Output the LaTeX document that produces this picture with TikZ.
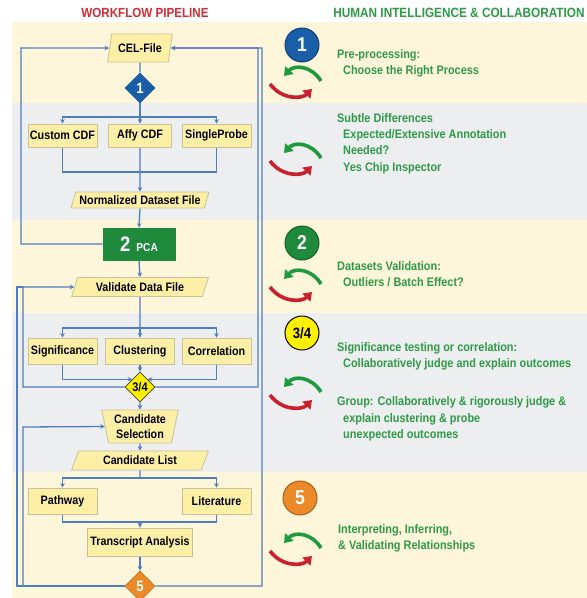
\documentclass[tikz,border=0pt]{standalone}
\usepackage{fontspec}
\setmainfont{Liberation Sans}[FakeStretch=0.88]
\usetikzlibrary{shapes.geometric,arrows.meta}
\definecolor{bandY}{HTML}{FDF6DA}
\definecolor{bandG}{HTML}{EDEEF0}
\definecolor{boxF}{HTML}{FDF0A6}
\definecolor{boxD}{HTML}{C9C19A}
\definecolor{lineB}{HTML}{4F7DBE}
\definecolor{blueN}{HTML}{1B5EA8}
\definecolor{greenN}{HTML}{1F8A3C}
\definecolor{txtG}{HTML}{2F9A47}
\definecolor{redT}{HTML}{D62A36}
\definecolor{orangeN}{HTML}{EC8A2A}
\definecolor{yellowN}{HTML}{FFF000}
\definecolor{redA}{HTML}{C8202E}
\definecolor{greenA}{HTML}{1E9A3E}
\pgfdeclarelayer{back}
\pgfdeclarelayer{lines}
\pgfsetlayers{back,lines,main}
\begin{document}
\begin{tikzpicture}[x=1pt,y=-1pt,
  every node/.style={font=\bfseries\fontsize{12.2}{13}\selectfont},
  box/.style={draw=boxD, fill=boxF, line width=0.8pt, inner sep=1pt, minimum height=23pt},
  para/.style={box, trapezium, trapezium left angle=68, trapezium right angle=112, trapezium stretches=true},
  dia/.style={diamond, aspect=1, minimum width=30pt, minimum height=30pt, inner sep=0pt, line width=0.8pt, font=\bfseries\fontsize{15}{15}\selectfont},
  num/.style={circle, minimum size=34pt, inner sep=0pt, line width=1pt, font=\bfseries\fontsize{20}{20}\selectfont},
  conn/.style={draw=lineB, line width=1.3pt},
  arr/.style={conn, -{Stealth[length=4.5pt,width=4.5pt]}},
  rtext/.style={anchor=west, text=txtG, align=left, inner sep=0pt, font=\bfseries\fontsize{12.4}{16.3}\selectfont},
  cyc/.pic={
    \draw[greenA, line width=3.6pt, -{Triangle[length=8pt,width=11pt]}] (25,0) .. controls (15,-16) and (-2,-16) .. (-12,-5);
    \draw[redA, line width=3.6pt, -{Triangle[length=8pt,width=11pt]}] (-26,3) .. controls (-14,19) and (6,18) .. (16,8);
  }
]
\useasboundingbox (0,0) rectangle (587,598);
\begin{pgfonlayer}{back}
\fill[white] (0,0) rectangle (587,598);
\fill[bandY] (12,22) rectangle (587,103);
\fill[bandG] (12,103) rectangle (587,220);
\fill[bandY] (12,220) rectangle (587,313);
\fill[bandG] (12,313) rectangle (587,472);
\fill[bandY] (12,472) rectangle (587,598);
\end{pgfonlayer}

% titles
\node[text=redT, font=\bfseries\fontsize{13.2}{14}\selectfont] (t1) at (145,13) {WORKFLOW PIPELINE};
\node[text=txtG, font=\bfseries\fontsize{13.4}{14}\selectfont] (t2) at (459,13) {HUMAN INTELLIGENCE \& COLLABORATION};

% pipeline nodes
\node[para, trapezium left angle=74, trapezium right angle=106, minimum width=65pt, minimum height=28pt] (cel) at (140,48) {CEL-File};
\node[dia, fill=blueN, draw=blueN, text=white] (d1) at (140,88) {1};
\node[box, minimum width=69pt] (cdf1) at (62.5,135.5) {Custom CDF};
\node[box, minimum width=63pt] (cdf2) at (140,135.5) {Affy CDF};
\node[box, minimum width=69pt] (cdf3) at (216.5,135.5) {SingleProbe};
\node[para, minimum width=138pt, minimum height=16pt] (norm) at (140,200) {Normalized Dataset File};
\node[box, fill=greenN, draw=greenN, text=white, minimum width=72pt, minimum height=32pt] (pca) at (139,244) {{\fontsize{21}{21}\selectfont 2}\hspace{6pt}{\fontsize{11.5}{12}\selectfont PCA}\hspace{20pt}};
\node[para, minimum width=138pt, minimum height=19pt] (val) at (140,287) {Validate Data File};
\node[box, minimum width=69pt, minimum height=26pt] (sig) at (62.5,351) {Significance};
\node[box, minimum width=69pt, minimum height=26pt] (clu) at (140,351) {Clustering};
\node[box, minimum width=69pt, minimum height=26pt] (cor) at (216.5,351) {Correlation};
\node[dia, fill=yellowN, draw=black!75, text=black, font=\bfseries\fontsize{12.5}{12}\selectfont] (d34) at (140,387) {3/4};
\node[box, trapezium, trapezium left angle=103, trapezium right angle=103, trapezium stretches=true, minimum width=77pt, minimum height=33pt, align=center, font=\bfseries\fontsize{12.2}{15}\selectfont] (csel) at (140,426.5) {Candidate\\Selection};
\node[para, minimum width=138pt, minimum height=19pt] (clist) at (140,460.5) {Candidate List};
\node[box, minimum width=69pt, minimum height=26pt] (path) at (62.5,501) {Pathway};
\node[box, minimum width=69pt, minimum height=26pt] (lit) at (216.5,501) {Literature};
\node[box, minimum width=105pt, minimum height=28pt] (tra) at (140,542) {Transcript Analysis};
\node[dia, fill=orangeN, draw=orangeN!85!black, text=white] (d5) at (140,586) {5};

% helper points
\coordinate (b1) at (140,117);
\coordinate (m1) at (140,172);
\coordinate (b2) at (140,328);
\coordinate (b3) at (140,478);
\coordinate (m3) at (140,522);
\coordinate (L1) at (21,48);
\coordinate (L2) at (23,287);
\coordinate (L3) at (23,427);
\coordinate (L4) at (17,287);
\coordinate (R1) at (258,48);
\coordinate (R2) at (262,48);

\begin{pgfonlayer}{lines}
\draw[conn] (cel.south) -- (d1.north);
\draw[conn] (d1.south) -- (b1);
\draw[arr] (b1) -| (cdf1.north);
\draw[arr] (b1) -| (cdf3.north);
\draw[arr] (b1) -- (cdf2.north);
\draw[conn] (cdf1.south) |- (m1) -| (cdf3.south);
\draw[arr] (cdf2.south) -- (norm.north);
\draw[arr] (norm.south) -- (pca.north);
\draw[arr] (pca.south) -- (val.north);
\draw[conn] (val.south) -- (b2);
\draw[arr] (b2) -| (sig.north);
\draw[arr] (b2) -| (cor.north);
\draw[arr] (b2) -- (clu.north);
\draw[arr] (sig.south) |- (d34.north west);
\draw[arr] (cor.south) |- (d34.north east);
\draw[arr] (clu.south) -- (d34.north);
\draw[arr] (d34.south) -- (csel.north);
\draw[arr] (csel.south) -- (clist.north);
\draw[conn] (clist.south) -- (b3);
\draw[arr] (b3) -| (path.north);
\draw[arr] (b3) -| (lit.north);
\draw[conn] (path.south) |- (m3) -| (lit.south);
\draw[arr] (m3) -- (tra.north);
\draw[arr] (tra.south) -- (d5.north);
% loops
\draw[arr] (pca.west) -| (L1) -- (cel.west);
\draw[arr] (d34.west) -| (L2) -- (val.west);
\draw[arr] (d34.east) -| (R1) -- (cel.east);
\draw[arr] (d5.west) -| (L3) -- (csel.west);
\draw[conn] (d5.west) -| (L4) -- (L2);
\draw[arr] (d5.east) -| (R2) -- (cel.east);
\end{pgfonlayer}

% right column
\node[num, fill=blueN, draw=blueN!70!black, text=white] (c1) at (302,45) {1};
\node[num, fill=greenN, draw=greenN!70!black, text=white] (c2) at (302,243) {2};
\node[num, fill=yellowN, draw=black, text=black, font=\bfseries\fontsize{15}{15}\selectfont] (c34) at (302,333) {3/4};
\node[num, fill=orangeN, draw=orangeN!70!black, text=white] (c5) at (300,498) {5};

\pic at (296,81) {cyc};
\pic at (296,158) {cyc};
\pic at (296,284) {cyc};
\pic at (296,392) {cyc};
\pic at (296,548) {cyc};

\node[rtext] (h1) at (337,63) {Pre-processing:\\\hspace{6pt}Choose the Right Process};
\node[rtext] (h2) at (337,143.5) {Subtle Differences\\\hspace{6pt}Expected/Extensive Annotation\\\hspace{6pt}Needed?\\\hspace{6pt}Yes Chip Inspector};
\node[rtext] (h3) at (337,274) {Datasets Validation:\\\hspace{6pt}Outliers / Batch Effect?};
\node[rtext] (h4) at (337,356) {Significance testing or correlation:\\\hspace{6pt}Collaboratively judge and explain outcomes};
\node[rtext] (h5) at (337,419) {Group: Collaboratively \& rigorously judge \&\\\hspace{6pt}explain clustering \& probe\\\hspace{6pt}unexpected outcomes};
\node[rtext] (h6) at (338,538.5) {Interpreting, Inferring,\\\& Validating Relationships};
\end{tikzpicture}
\end{document}
